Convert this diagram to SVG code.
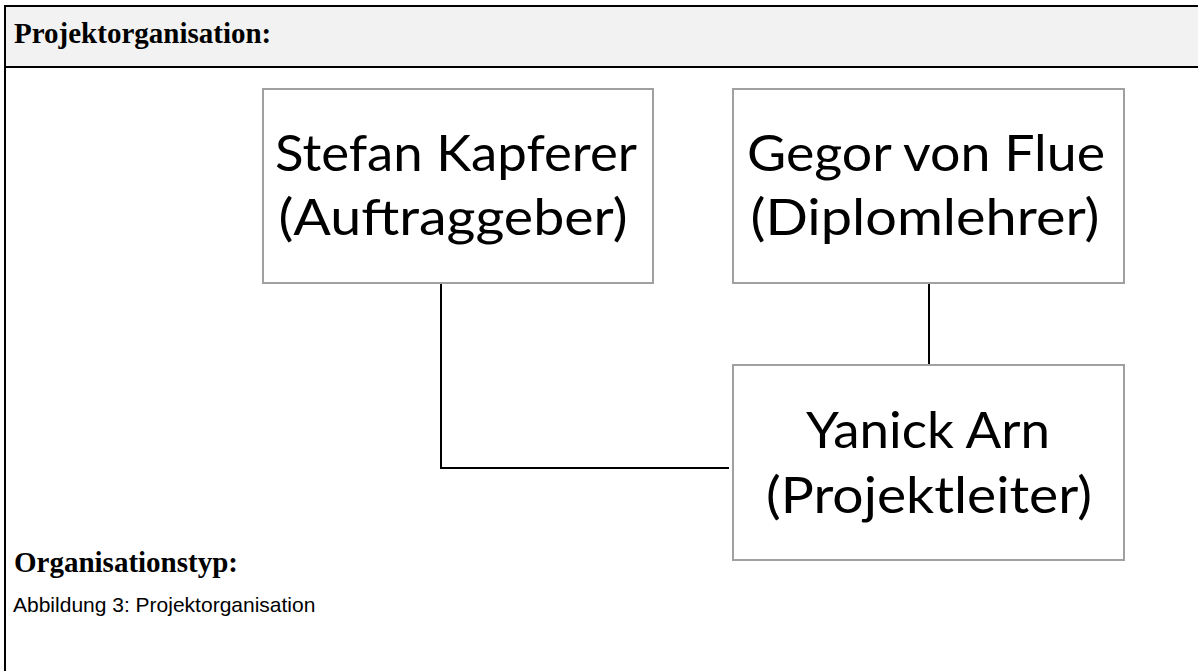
<svg xmlns="http://www.w3.org/2000/svg" width="1198" height="671" viewBox="0 0 1198 671">
  <style>
    .frame { fill: none; stroke: #000; stroke-width: 2; }
    .box { fill: #fff; stroke: #a0a0a0; stroke-width: 2; }
    .lbl { font-family: Lato, "Open Sans", "Liberation Sans", sans-serif; font-size: 50px; fill: #000; text-anchor: middle; }
    .head { font-family: "Liberation Serif", "Times New Roman", serif; font-weight: bold; font-size: 29px; fill: #000; }
    .cap { font-family: "Liberation Sans", Arial, sans-serif; font-size: 21px; fill: #000; }
    .wire { fill: none; stroke: #000; stroke-width: 2; }
  </style>

  <!-- page background and table frame -->
  <rect x="0" y="0" width="1198" height="671" fill="#fff"/>
  <rect x="5" y="6" width="1193" height="61" fill="#f2f2f2"/>
  <line class="frame" x1="5" y1="6" x2="1198" y2="6"/>
  <line class="frame" x1="5" y1="67" x2="1198" y2="67"/>
  <line class="frame" x1="5" y1="5" x2="5" y2="671"/>

  <text class="head" x="14" y="43">Projektorganisation:</text>

  <!-- connectors -->
  <g id="connectors">
    <polyline class="wire" points="441,284 441,468 729,468"/>
    <line class="wire" x1="929" y1="284" x2="929" y2="365"/>
  </g>

  <g id="node-kapferer">
    <rect class="box" x="263" y="89" width="390" height="194"/>
    <text class="lbl" x="456" y="171" textLength="362" lengthAdjust="spacingAndGlyphs">Stefan Kapferer</text>
    <text class="lbl" x="453" y="235" textLength="349" lengthAdjust="spacingAndGlyphs">(Auftraggeber)</text>
  </g>

  <g id="node-flue">
    <rect class="box" x="733" y="89" width="391" height="194"/>
    <text class="lbl" x="926" y="171" textLength="358" lengthAdjust="spacingAndGlyphs">Gegor von Flue</text>
    <text class="lbl" x="925" y="235" textLength="349" lengthAdjust="spacingAndGlyphs">(Diplomlehrer)</text>
  </g>

  <g id="node-arn">
    <rect class="box" x="733" y="365" width="391" height="195"/>
    <text class="lbl" x="928" y="448" textLength="244" lengthAdjust="spacingAndGlyphs">Yanick Arn</text>
    <text class="lbl" x="929" y="513" textLength="326" lengthAdjust="spacingAndGlyphs">(Projektleiter)</text>
  </g>

  <text class="head" x="14" y="572">Organisationstyp:</text>
  <text class="cap" x="13" y="612">Abbildung 3: Projektorganisation</text>
</svg>
